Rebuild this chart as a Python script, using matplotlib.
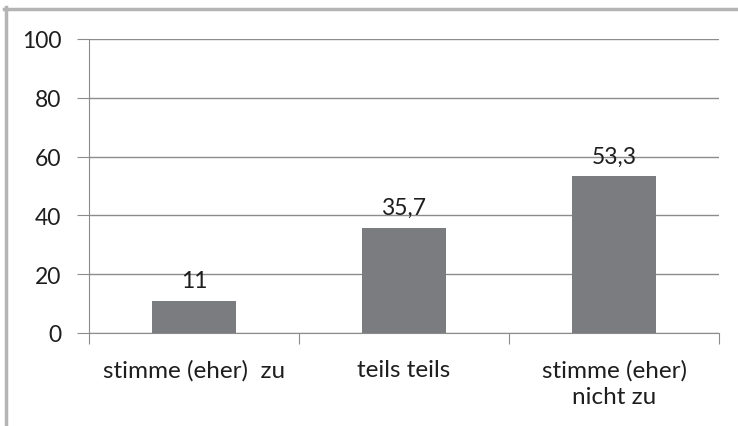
import matplotlib
matplotlib.use("Agg")
import matplotlib.pyplot as plt
from matplotlib.lines import Line2D

categories = ["stimme (eher)  zu", "teils teils", "stimme (eher)\nnicht zu"]
values = [11, 35.7, 53.3]
value_labels = ["11", "35,7", "53,3"]
yticks = [0, 20, 40, 60, 80, 100]

plt.rcParams['font.family'] = ['Lato', 'DejaVu Sans']

fig = plt.figure(figsize=(7.38, 4.27), dpi=100)
W, H = 738, 427
ax = fig.add_axes([89/W, 1-334/H, (719-89)/W, (334-40)/H])

FS = 16.5
TC = "#1e1e1e"
x = list(range(len(categories)))
ax.bar(x, values, width=0.4, color="#7b7c80", zorder=3)
ax.set_xlim(-0.5, 2.5)
ax.set_ylim(0, 100)
ax.set_yticks(yticks)
ax.set_yticklabels([str(t) for t in yticks], fontsize=FS, color=TC)
ax.yaxis.grid(True, color="#8c8c8c", linewidth=1.0, zorder=0)
ax.set_axisbelow(True)
for s in ["top", "right"]:
    ax.spines[s].set_visible(False)
ax.spines["left"].set_color("#8c8c8c")
ax.spines["bottom"].set_color("#8c8c8c")
ax.tick_params(axis="y", length=9, color="#8c8c8c", pad=11)
ax.set_xticks([-0.5, 0.5, 1.5, 2.5])
ax.set_xticklabels([])
ax.tick_params(axis="x", length=8, color="#8c8c8c", direction="out")
for xi, lab in zip(x, categories):
    ax.annotate(lab, (xi, 0), xytext=(0, -19), textcoords="offset points",
                ha="center", va="top", fontsize=17.5, color=TC,
                linespacing=1.3, annotation_clip=False)
for xi, v, lab in zip(x, values, value_labels):
    ax.annotate(lab, (xi, v), xytext=(0, 7), textcoords="offset points",
                ha="center", va="bottom", fontsize=FS, color=TC)

# gray frame border (top and left)
fig.add_artist(Line2D([4/W, 1], [1-9.5/H, 1-9.5/H], color="#b4b4b4", linewidth=2.5, transform=fig.transFigure))
fig.add_artist(Line2D([5.5/W, 5.5/W], [0, 1-8/H], color="#b4b4b4", linewidth=2.5, transform=fig.transFigure))

fig.savefig("out.png", dpi=100)
